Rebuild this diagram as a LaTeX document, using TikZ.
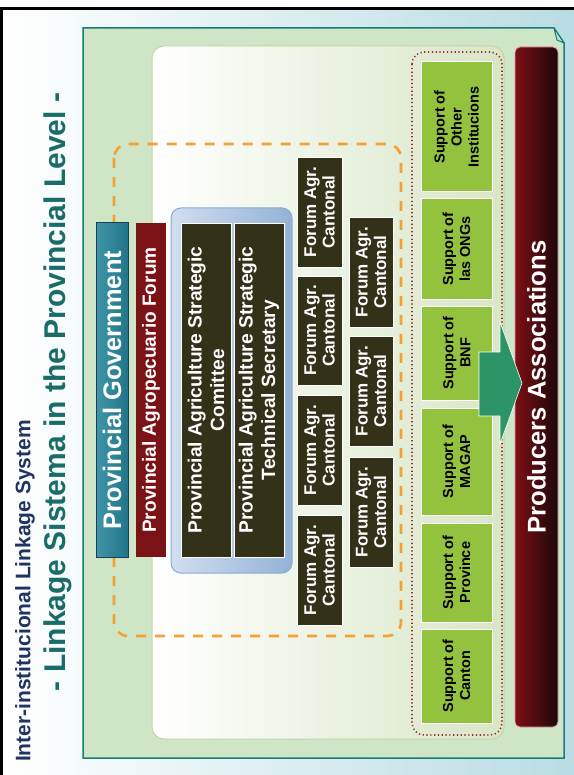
\documentclass[tikz,border=0pt]{standalone}
\usepackage{fontspec}
\setmainfont{Liberation Sans}
\definecolor{bgteal}{RGB}{184,220,226}
\definecolor{panelgreen}{RGB}{206,230,198}
\definecolor{panelborder}{RGB}{22,125,120}
\definecolor{foldcol}{RGB}{190,225,215}
\definecolor{innergreen}{RGB}{216,230,198}
\definecolor{innerborder}{RGB}{196,214,168}
\definecolor{redL}{RGB}{124,15,20}
\definecolor{redM}{RGB}{108,12,18}
\definecolor{redR}{RGB}{28,8,10}
\definecolor{redborder}{RGB}{232,150,175}
\definecolor{dotcol}{RGB}{160,45,45}
\definecolor{supgreen}{RGB}{146,194,62}
\definecolor{arrowgreen}{RGB}{45,148,102}
\definecolor{orangec}{RGB}{245,160,50}
\definecolor{govL}{RGB}{62,150,168}
\definecolor{govR}{RGB}{34,116,138}
\definecolor{govborder}{RGB}{28,62,92}
\definecolor{forumred}{RGB}{122,18,22}
\definecolor{blueL}{RGB}{208,222,240}
\definecolor{blueR}{RGB}{148,178,214}
\definecolor{blueborder}{RGB}{140,170,210}
\definecolor{darkolive}{RGB}{51,49,24}
\definecolor{titleteal}{RGB}{26,108,104}
\definecolor{navy}{RGB}{31,52,96}
\tikzset{
  darkbox/.style={fill=darkolive, draw=white, line width=0.8pt},
  supbox/.style={fill=supgreen, draw=white, line width=1pt},
  vtext/.style={rotate=90, align=center, inner sep=0pt},
  forumtxt/.style={vtext, text=white, font=\bfseries\fontsize{17}{18.5}\selectfont},
  suptxt/.style={vtext, text=black, font=\bfseries\fontsize{14.5}{17}\selectfont},
  stratxt/.style={vtext, text=white, font=\bfseries\fontsize{19.2}{22.5}\selectfont}
}
\begin{document}
\begin{tikzpicture}[x=1pt,y=-1pt]
\useasboundingbox (0,0) rectangle (573,775);
% background slide
\fill[white] (0,0) rectangle (573,775);
\shade[left color=white, right color=bgteal] (1.5,8.5) rectangle (576,778);
\draw[line width=3pt] (1.5,778) -- (1.5,8.5) -- (576,8.5);
% titles
\node[vtext, text=navy, font=\bfseries\fontsize{21}{24}\selectfont] (subtitle) at (25,591) {Inter-institucional Linkage System};
\node[vtext, text=titleteal, font=\bfseries\fontsize{30}{34}\selectfont] (title) at (58,392) {- Linkage Sistema in the Provincial Level -};
% green panel with folded corner
\filldraw[fill=panelgreen, draw=panelborder, line width=1.5pt] (83,28) -- (554,28) -- (564,43) -- (564,758) -- (83,758) -- cycle;
\filldraw[fill=foldcol, draw=panelborder, line width=1pt, line join=round] (554,28) -- (557,40) -- (564,43) -- cycle;
% inner rounded panel
\shade[left color=white, right color=innergreen, rounded corners=12pt] (152,46) rectangle (504,739);
\draw[innerborder, line width=1pt, rounded corners=12pt] (152,46) rectangle (504,739);
% producers bar
\shade[left color=redL, middle color=redM, right color=redR, rounded corners=5pt] (515,47) rectangle (558,727);
\draw[redborder, line width=0.8pt, rounded corners=5pt] (515,47) rectangle (558,727);
% dotted frame
\draw[dotcol, line width=1.6pt, dash pattern=on 1.2pt off 2.6pt, rounded corners=12pt] (412,52) rectangle (502,735);
% support boxes
\draw[supbox] (421,62) rectangle (492,192);
\draw[supbox] (421,199) rectangle (492,299);
\draw[supbox] (421,306) rectangle (492,400);
\draw[supbox] (421,408) rectangle (492,515);
\draw[supbox] (421,523) rectangle (492,622);
\draw[supbox] (421,629) rectangle (492,723);
\node[suptxt] (s1) at (456.5,127) {Support of\\Other\\Institucions};
\node[suptxt] (s2) at (456.5,249) {Support of\\las ONGs};
\node[suptxt] (s3) at (456.5,353) {Support of\\BNF};
\node[suptxt] (s4) at (456.5,461.5) {Support of\\MAGAP};
\node[suptxt] (s5) at (456.5,572.5) {Support of\\Province};
\node[suptxt] (s6) at (456.5,676) {Support of\\Canton};
% arrow
\filldraw[fill=arrowgreen, draw=white, line width=0.6pt] (479,352) -- (500,352) -- (500,322) -- (522,383) -- (500,444) -- (500,416) -- (479,416) -- cycle;
\node[vtext, text=white, font=\bfseries\fontsize{25.6}{28}\selectfont] (producers) at (536.5,387) {Producers Associations};
% orange dashed frame
\draw[orangec, line width=2.6pt, dash pattern=on 10pt off 9pt, rounded corners=14pt] (114,144) rectangle (401,636);
% provincial government
\shade[left color=govL, right color=govR] (96,223) rectangle (128,557);
\draw[govborder, line width=1pt] (96,223) rectangle (128,557);
\node[vtext, text=white, font=\bfseries\fontsize{25.4}{28}\selectfont] (gov) at (112,390) {Provincial Government};
% agropecuario forum
\fill[forumred] (136,223) rectangle (166,557);
\node[vtext, text=white, font=\bfseries\fontsize{19.1}{22}\selectfont] (agro) at (151,390) {Provincial Agropecuario Forum};
% blue panel
\shade[left color=blueL, right color=blueR, rounded corners=10pt] (171,208) rectangle (292,573);
\draw[blueborder, line width=1pt, rounded corners=10pt] (171,208) rectangle (292,573);
\draw[darkbox] (181,223) rectangle (231,557);
\draw[darkbox] (234,223) rectangle (284,557);
\node[stratxt] (com) at (206,390) {Provincial Agriculture Strategic\\Comittee};
\node[stratxt] (sec) at (259,390) {Provincial Agriculture Strategic\\Technical Secretary};
% forum cantonal boxes
\draw[darkbox] (297,157) rectangle (342,267);
\draw[darkbox] (297,276) rectangle (342,385);
\draw[darkbox] (297,395) rectangle (342,505);
\draw[darkbox] (297,515) rectangle (342,625);
\draw[darkbox] (349,217) rectangle (393,327);
\draw[darkbox] (349,336) rectangle (393,446);
\draw[darkbox] (349,457) rectangle (393,567);
\node[forumtxt] (f1) at (319.5,212) {Forum Agr.\\Cantonal};
\node[forumtxt] (f2) at (319.5,330.5) {Forum Agr.\\Cantonal};
\node[forumtxt] (f3) at (319.5,450) {Forum Agr.\\Cantonal};
\node[forumtxt] (f4) at (319.5,570) {Forum Agr.\\Cantonal};
\node[forumtxt] (f5) at (371,272) {Forum Agr.\\Cantonal};
\node[forumtxt] (f6) at (371,391) {Forum Agr.\\Cantonal};
\node[forumtxt] (f7) at (371,512) {Forum Agr.\\Cantonal};
\end{tikzpicture}
\end{document}
